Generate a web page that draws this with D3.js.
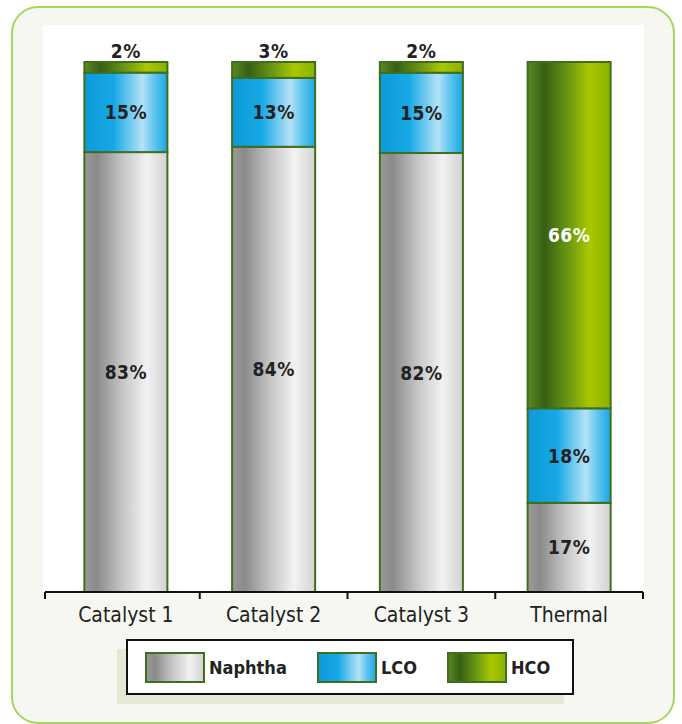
<!DOCTYPE html>
<html><head><meta charset="utf-8">
<script src="https://cdn.jsdelivr.net/npm/d3@7"></script>
<style>
html,body{margin:0;padding:0;background:#fff;}
svg{display:block;}
text{font-family:"Liberation Sans Narrow","DejaVu Sans Condensed","Liberation Sans",sans-serif;}
</style></head>
<body>
<svg id="chart" width="682" height="724"></svg>
<script>
const categories = ["Catalyst 1", "Catalyst 2", "Catalyst 3", "Thermal"];
const seriesNames = ["Naphtha", "LCO", "HCO"];
const naphtha = [83, 84, 82, 17];
const lco = [15, 13, 15, 18];
const hco = [2, 3, 2, 66];
const pctLabels = v => v + "%";

const rows = categories.map((c, i) => ({cat: c, Naphtha: naphtha[i], LCO: lco[i], HCO: hco[i]}));

const svg = d3.select("#chart");
const defs = svg.append("defs");

function grad(id, stops) {
  const g = defs.append("linearGradient").attr("id", id).attr("x1", 0).attr("x2", 1).attr("y1", 0).attr("y2", 0);
  stops.forEach(s => g.append("stop").attr("offset", s[0]).attr("stop-color", s[1]));
}
grad("g-Naphtha", [[0, "#9a9a9a"], [0.15, "#8a8a8a"], [0.45, "#c4c4c4"], [0.75, "#f2f2f2"], [1, "#d2d2d2"]]);
grad("g-LCO", [[0, "#0d9ad8"], [0.35, "#16a8e6"], [0.7, "#b4e2f6"], [0.85, "#5cc4ee"], [1, "#1aa6e4"]]);
grad("g-HCO", [[0, "#5a8a22"], [0.2, "#365f14"], [0.5, "#6c9a12"], [0.75, "#aac800"], [1, "#88b000"]]);

// outer frame
svg.append("rect").attr("x", 12).attr("y", 7).attr("width", 662).attr("height", 716)
  .attr("rx", 26).attr("ry", 26).attr("fill", "#f6f7f1").attr("stroke", "#a6d562").attr("stroke-width", 2);
// inner white panel
svg.append("rect").attr("x", 43).attr("y", 25).attr("width", 601).attr("height", 567).attr("fill", "#ffffff");

const x = d3.scaleBand().domain(categories).range([52, 643]).paddingInner(0.438).paddingOuter(0.219);
const y = d3.scaleLinear().domain([0, 1]).range([592, 62]);

const stack = d3.stack().keys(seriesNames).offset(d3.stackOffsetExpand);
const stacked = stack(rows);

const layer = svg.append("g").selectAll("g").data(stacked).join("g")
  .attr("fill", d => `url(#g-${d.key})`);

layer.selectAll("rect").data(d => d.map(p => ({p, key: d.key}))).join("rect")
  .attr("x", d => x(d.p.data.cat))
  .attr("width", x.bandwidth())
  .attr("y", d => y(d.p[1]))
  .attr("height", d => y(d.p[0]) - y(d.p[1]))
  .attr("stroke", "#3f6e1e").attr("stroke-width", 2);

// value labels
const labels = [];
stacked.forEach(s => s.forEach(p => {
  const v = p.data[s.key];
  labels.push({key: s.key, cat: p.data.cat, v, y0: p[0], y1: p[1]});
}));
svg.append("g").selectAll("text").data(labels).join("text")
  .attr("x", d => x(d.cat) + x.bandwidth() / 2)
  .attr("y", d => d.v < 5 ? y(d.y1) - 4 : (y(d.y0) + y(d.y1)) / 2 + 7)
  .attr("text-anchor", "middle")
  .attr("font-size", 19).attr("font-weight", "bold")
  .attr("letter-spacing", 0.5)
  .attr("fill", d => (d.key === "HCO" && d.v >= 5) ? "#ffffff" : "#222222")
  .text(d => pctLabels(d.v));

// axis
const axisG = svg.append("g");
axisG.append("line").attr("x1", 45).attr("x2", 643).attr("y1", 592).attr("y2", 592)
  .attr("stroke", "#111").attr("stroke-width", 2);
const tickXs = [45].concat(categories.slice(1).map(c => x(c) - x.step() * x.paddingInner() / 2)).concat([643]);
axisG.selectAll("line.tick").data(tickXs).join("line").attr("class", "tick")
  .attr("x1", d => d).attr("x2", d => d).attr("y1", 592).attr("y2", 599)
  .attr("stroke", "#111").attr("stroke-width", 2);
axisG.selectAll("text").data(categories).join("text")
  .attr("x", d => x(d) + x.bandwidth() / 2).attr("y", 622)
  .attr("text-anchor", "middle").attr("font-size", 21).attr("fill", "#222")
  .text(d => d);

// legend
svg.append("rect").attr("x", 117).attr("y", 649).attr("width", 447).attr("height", 55).attr("fill", "#e4e9d6");
svg.append("rect").attr("x", 127).attr("y", 640).attr("width", 446).attr("height", 54)
  .attr("fill", "#fff").attr("stroke", "#111").attr("stroke-width", 2);
const legX = [146, 318, 448];
const lg = svg.append("g").selectAll("g").data(seriesNames).join("g")
  .attr("transform", (d, i) => `translate(${legX[i]},653)`);
lg.append("rect").attr("width", 58).attr("height", 29).attr("fill", d => `url(#g-${d})`)
  .attr("stroke", "#3f6e1e").attr("stroke-width", 2);
lg.append("text").attr("x", 63).attr("y", 21).attr("font-size", 18).attr("font-weight", "bold")
  .attr("fill", "#222").text(d => d);
</script>
</body></html>
